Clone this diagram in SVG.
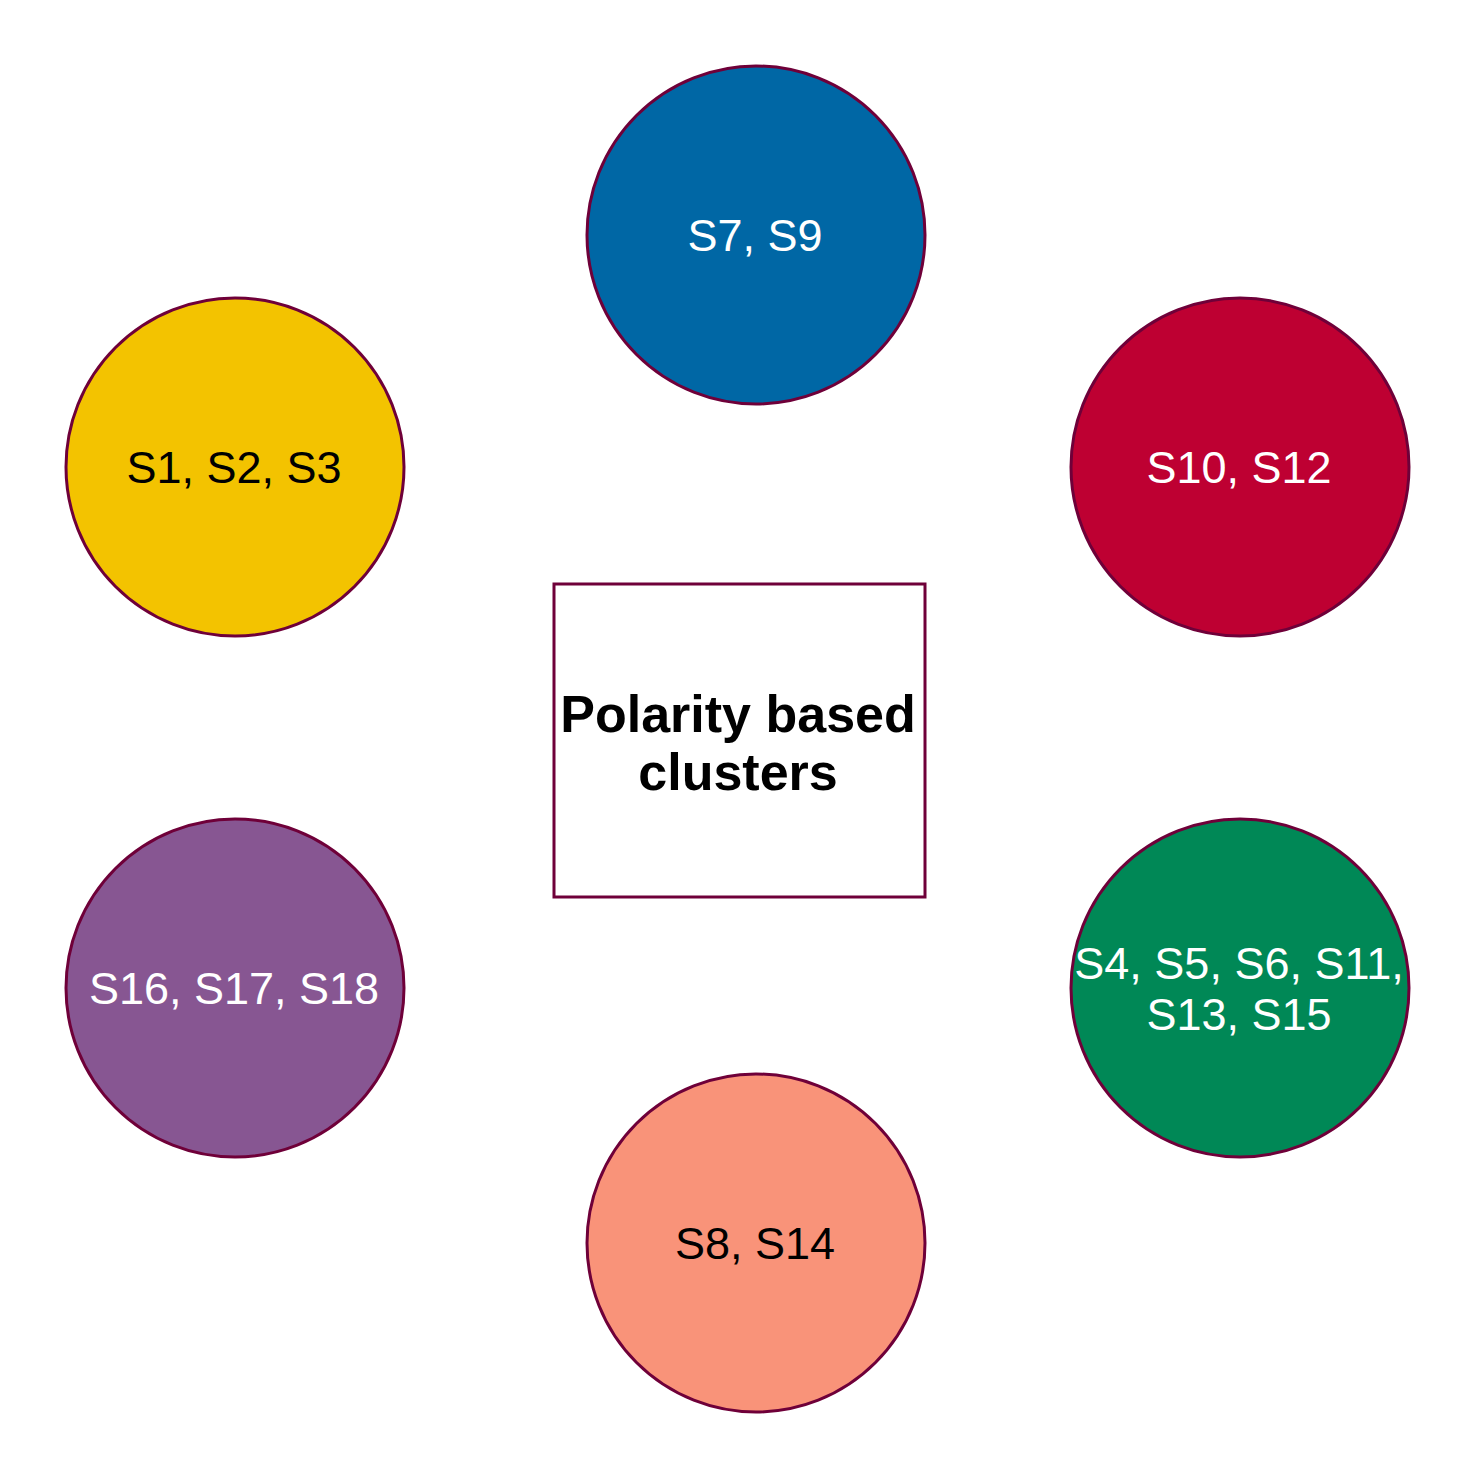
<svg xmlns="http://www.w3.org/2000/svg" width="1476" height="1467" viewBox="0 0 1476 1467">
<style>
.c{stroke:#6F0039;stroke-width:3}
.t{font-family:"Liberation Sans",Arial,sans-serif;font-size:45px;text-anchor:middle}
.w{fill:#FFFFFF}
.k{fill:#000000}
.b{font-family:"Liberation Sans",Arial,sans-serif;font-size:52px;font-weight:bold;text-anchor:middle;fill:#000}
</style>
<rect width="1476" height="1467" fill="#FFFFFF"/>
<g id="center">
<rect x="554" y="584" width="371" height="313" fill="#FFFFFF" class="c"/>
<text class="b" x="738" y="732">Polarity based</text>
<text class="b" x="738" y="790">clusters</text>
</g>
<g id="n-blue">
<circle cx="756" cy="235" r="169" fill="#0067A5" class="c"/>
<text class="t w" x="755" y="251">S7, S9</text>
</g>
<g id="n-yellow">
<circle cx="235" cy="467" r="169" fill="#F3C300" class="c"/>
<text class="t k" x="234" y="483">S1, S2, S3</text>
</g>
<g id="n-red">
<circle cx="1240" cy="467" r="169" fill="#BE0032" class="c"/>
<text class="t w" x="1239" y="483">S10, S12</text>
</g>
<g id="n-purple">
<circle cx="235" cy="988" r="169" fill="#875692" class="c"/>
<text class="t w" x="234" y="1004">S16, S17, S18</text>
</g>
<g id="n-green">
<circle cx="1240" cy="988" r="169" fill="#008856" class="c"/>
<text class="t w" x="1239" y="979">S4, S5, S6, S11,</text>
<text class="t w" x="1239" y="1030">S13, S15</text>
</g>
<g id="n-salmon">
<circle cx="756" cy="1243" r="169" fill="#F99379" class="c"/>
<text class="t k" x="755" y="1259">S8, S14</text>
</g>
<g id="connectors"></g>
</svg>
